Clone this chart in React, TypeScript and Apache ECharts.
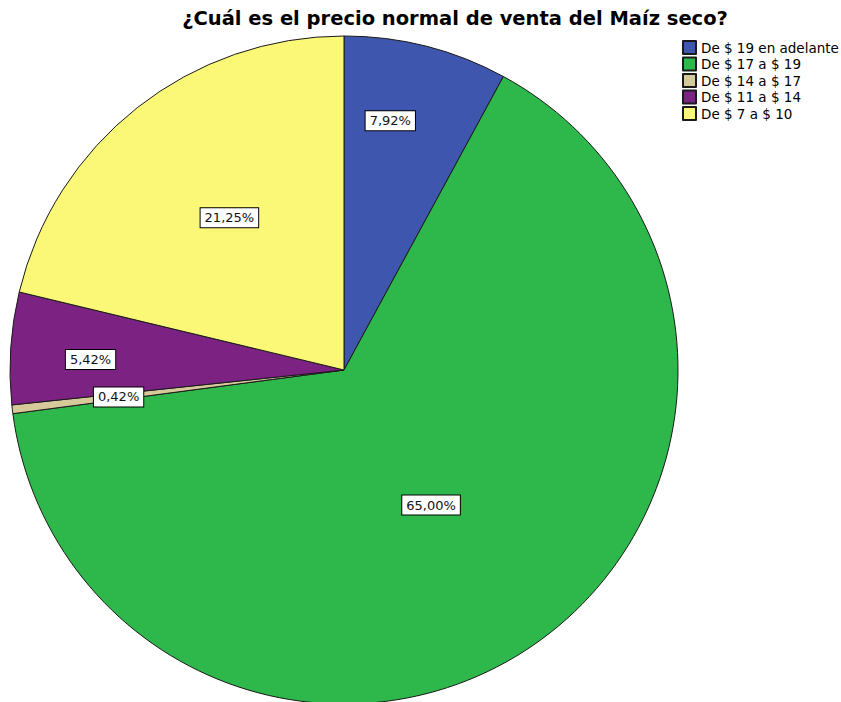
import React, { useEffect, useRef } from "react";
import * as echarts from "echarts";

const categories = [
  "De $ 19 en adelante",
  "De $ 17 a $ 19",
  "De $ 14 a $ 17",
  "De $ 11 a $ 14",
  "De $ 7 a $ 10",
];
const values = [7.92, 65.0, 0.42, 5.42, 21.25];
const labels = ["7,92%", "65,00%", "0,42%", "5,42%", "21,25%"];
const colors = ["#3E56AD", "#2EB84B", "#D6C99A", "#7B2283", "#FBF877"];
// radius (px) at which each slice's label sits
const labelRadius = [250, 156, 226, 251, 187];
const labelOffset: number[][] = [[-16, -4], [-3, 4], [2, 0], [0, 6], [3, -3]];

const CENTER = [344, 370];
const RADIUS = 334;
const FONT = "DejaVu Sans, Verdana, sans-serif";

export default function App() {
  const ref = useRef<HTMLDivElement>(null);
  useEffect(() => {
    document.body.style.margin = "0";
    const chart = echarts.init(ref.current!, null, { renderer: "svg" });
    const data = categories.map((name, i) => ({
      name,
      value: values[i],
      itemStyle: { color: colors[i] },
    }));
    const labelSeries = categories.map((_, k) => ({
      type: "pie",
      center: CENTER,
      radius: [0, labelRadius[k] * 2],
      startAngle: 90,
      silent: true,
      animation: false,
      z: 5,
      labelLine: { show: false },
      emphasis: { disabled: true },
      data: categories.map((name, i) => ({
        name,
        value: values[i],
        itemStyle: { color: "rgba(0,0,0,0)", borderWidth: 0 },
        label: {
          show: i === k,
          position: "inside",
          formatter: labels[i],
          offset: labelOffset[i],
          color: "#111",
          fontFamily: FONT,
          fontSize: 13,
          backgroundColor: "#fff",
          borderColor: "#000",
          borderWidth: 1,
          padding: [3, 4, 3, 4],
        },
      })),
    }));
    chart.setOption({
      animation: false,
      backgroundColor: "#fff",
      title: {
        text: "¿Cuál es el precio normal de venta del Maíz seco?",
        left: 450,
        textAlign: "center",
        top: 3,
        textStyle: {
          fontFamily: FONT,
          fontSize: 19.5,
          fontWeight: "bold",
          color: "#000",
        },
      },
      legend: {
        orient: "vertical",
        left: 682,
        top: 40,
        padding: 0,
        icon: "rect",
        itemWidth: 13,
        itemHeight: 13,
        itemGap: 1.5,
        selectedMode: false,
        data: categories,
        textStyle: {
          fontFamily: FONT,
          fontSize: 13.5,
          color: "#000",
        },
      },
      series: [
        {
          type: "pie",
          center: CENTER,
          radius: [0, RADIUS],
          startAngle: 90,
          silent: true,
          label: { show: false },
          labelLine: { show: false },
          emphasis: { disabled: true },
          itemStyle: { borderColor: "#1a1a1a", borderWidth: 1 },
          data,
        },
        ...labelSeries,
      ],
    });
    return () => chart.dispose();
  }, []);
  return <div ref={ref} style={{ width: 841, height: 702 }} />;
}
